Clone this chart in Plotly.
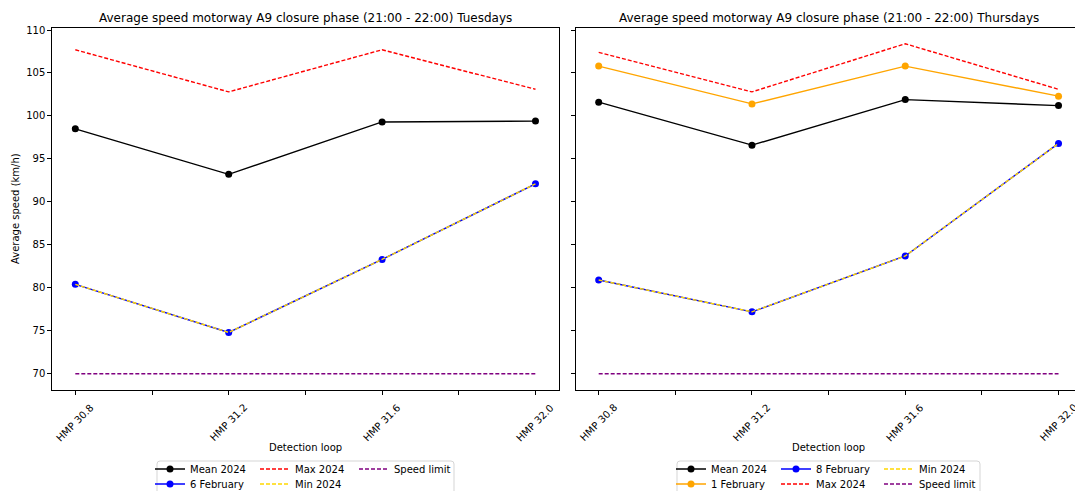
import plotly.graph_objects as go

# ---------------- data ----------------
hmp_labels = ["HMP 30.8", "HMP 31.2", "HMP 31.6", "HMP 32.0"]

tue_mean = [98.5, 93.2, 99.3, 99.4]
tue_feb6 = [80.4, 74.8, 83.3, 92.1]
tue_max = [107.7, 102.8, 107.7, 103.1]
tue_min = [80.4, 74.8, 83.3, 92.1]

thu_mean = [101.6, 96.6, 101.9, 101.2]
thu_feb1 = [105.8, 101.4, 105.8, 102.3]
thu_feb8 = [80.9, 77.2, 83.7, 96.8]
thu_max = [107.4, 102.8, 108.4, 103.1]
thu_min = [80.9, 77.2, 83.7, 96.8]

speed_limit = [70, 70, 70, 70]

title_tue = "Average speed motorway A9 closure phase (21:00 - 22:00) Tuesdays"
title_thu = "Average speed motorway A9 closure phase (21:00 - 22:00) Thursdays"

# ---------------- layout helpers ----------------
W, H = 1075, 491
FONT = "DejaVu Sans"
x_pos = [float(s.split()[1]) for s in hmp_labels]
mid_pos = [(a + b) / 2 for a, b in zip(x_pos[:-1], x_pos[1:])]
all_ticks = sorted(x_pos + mid_pos)


def px(x):
    return x / W


def py(y):
    return 1 - y / H


fig = go.Figure()

DASH = "4px,2px"
LW = 1.4
MS = 7

# legend cells: (name, values, colour, dash, markers, sample-center x px, row y px)
row1, row2 = 469, 484

series_tue = [
    ("Mean 2024", tue_mean, "black", "solid", True, 170, row1),
    ("6 February", tue_feb6, "blue", "solid", True, 170, row2),
    ("Max 2024", tue_max, "red", DASH, False, 275, row1),
    ("Min 2024", tue_min, "gold", DASH, False, 275, row2),
    ("Speed limit", speed_limit, "purple", DASH, False, 374, row1),
]
series_thu = [
    ("Mean 2024", thu_mean, "black", "solid", True, 691, row1),
    ("1 February", thu_feb1, "orange", "solid", True, 691, row2),
    ("8 February", thu_feb8, "blue", "solid", True, 796, row1),
    ("Max 2024", thu_max, "red", DASH, False, 796, row2),
    ("Min 2024", thu_min, "gold", DASH, False, 899, row1),
    ("Speed limit", speed_limit, "purple", DASH, False, 899, row2),
]

legends = {}
idx = 0
for series, xa, ya in ((series_tue, "x", "y"), (series_thu, "x2", "y2")):
    for name, vals, color, dash, markers, lx, ly in series:
        idx += 1
        lid = "legend" if idx == 1 else f"legend{idx}"
        fig.add_trace(go.Scatter(
            x=x_pos, y=vals, name=name,
            mode="lines+markers" if markers else "lines",
            line=dict(color=color, width=LW, dash=dash),
            marker=dict(color=color, size=MS),
            xaxis=xa, yaxis=ya, legend=lid,
        ))
        legends[lid] = dict(
            x=px(lx - 20), y=py(ly), xanchor="left", yanchor="middle",
            bgcolor="rgba(0,0,0,0)", borderwidth=0,
            font=dict(family=FONT, size=10, color="black"),
            itemclick=False, itemdoubleclick=False,
        )

x_range_left = [30.74, 32.06]
x_range_right = [30.74, 32.043]
y_range = [68.1, 110.2]

axis_common = dict(
    showgrid=False, zeroline=False, showline=True, linecolor="black",
    linewidth=1, mirror=True, ticks="outside", ticklen=4, tickwidth=1,
    tickcolor="black",
    tickfont=dict(family=FONT, size=10, color="black"),
)

fig.update_layout(
    width=W, height=H,
    margin=dict(l=0, r=0, t=0, b=0, pad=0, autoexpand=False),
    paper_bgcolor="white", plot_bgcolor="white",
    font=dict(family=FONT, size=10, color="black"),
    showlegend=True,
    xaxis=dict(domain=[px(52.3), px(558.5)], range=x_range_left,
               tickvals=all_ticks, showticklabels=False, anchor="y", **axis_common),
    yaxis=dict(domain=[py(390), py(28.3)], range=y_range,
               tickvals=list(range(70, 111, 5)), anchor="x", **axis_common),
    xaxis2=dict(domain=[px(575.7), 1.0], range=x_range_right,
                tickvals=all_ticks, showticklabels=False, anchor="y2", **axis_common),
    yaxis2=dict(domain=[py(390), py(28.3)], range=y_range,
                tickvals=list(range(70, 111, 5)), showticklabels=False,
                anchor="x2", **axis_common),
    **legends,
)

annotations = []
for xa in ("x", "x2"):
    for v, lab in zip(x_pos, hmp_labels):
        annotations.append(dict(
            x=v, xref=xa, y=py(399), yref="paper", text=lab,
            showarrow=False, textangle=-45, xanchor="center", yanchor="top",
            font=dict(family=FONT, size=10, color="black"),
        ))

annotations += [
    dict(x=px(305.5), y=py(18), xref="paper", yref="paper", text=title_tue,
         showarrow=False, xanchor="center", yanchor="middle",
         font=dict(family=FONT, size=12, color="black")),
    dict(x=px(828.5), y=py(18), xref="paper", yref="paper", text=title_thu,
         showarrow=False, xanchor="center", yanchor="middle",
         font=dict(family=FONT, size=12, color="black")),
    dict(x=px(305.5), y=py(447), xref="paper", yref="paper", text="Detection loop",
         showarrow=False, xanchor="center", yanchor="middle",
         font=dict(family=FONT, size=10, color="black")),
    dict(x=px(828.5), y=py(447), xref="paper", yref="paper", text="Detection loop",
         showarrow=False, xanchor="center", yanchor="middle",
         font=dict(family=FONT, size=10, color="black")),
    dict(x=px(15), y=py(209), xref="paper", yref="paper", text="Average speed (km/h)",
         showarrow=False, textangle=-90, xanchor="center", yanchor="middle",
         font=dict(family=FONT, size=10, color="black")),
]
fig.update_layout(annotations=annotations)


def rounded_box(x0, y0, x1, y1, r=3):
    X0, X1 = px(x0), px(x1)
    Y0, Y1 = py(y0), py(y1)
    rx, ry = r / W, r / H
    return (f"M{X0 + rx},{Y0} L{X1 - rx},{Y0} Q{X1},{Y0} {X1},{Y0 - ry} "
            f"L{X1},{Y1 + ry} Q{X1},{Y1} {X1 - rx},{Y1} L{X0 + rx},{Y1} "
            f"Q{X0},{Y1} {X0},{Y1 + ry} L{X0},{Y0 - ry} Q{X0},{Y0} {X0 + rx},{Y0} Z")


fig.update_layout(shapes=[
    dict(type="path", xref="paper", yref="paper",
         path=rounded_box(157, 461, 454, 497), line=dict(color="#d5d5d5", width=1),
         fillcolor="rgba(255,255,255,0.8)", layer="below"),
    dict(type="path", xref="paper", yref="paper",
         path=rounded_box(677, 461, 980, 497), line=dict(color="#d5d5d5", width=1),
         fillcolor="rgba(255,255,255,0.8)", layer="below"),
])

fig.write_html("out.html")
